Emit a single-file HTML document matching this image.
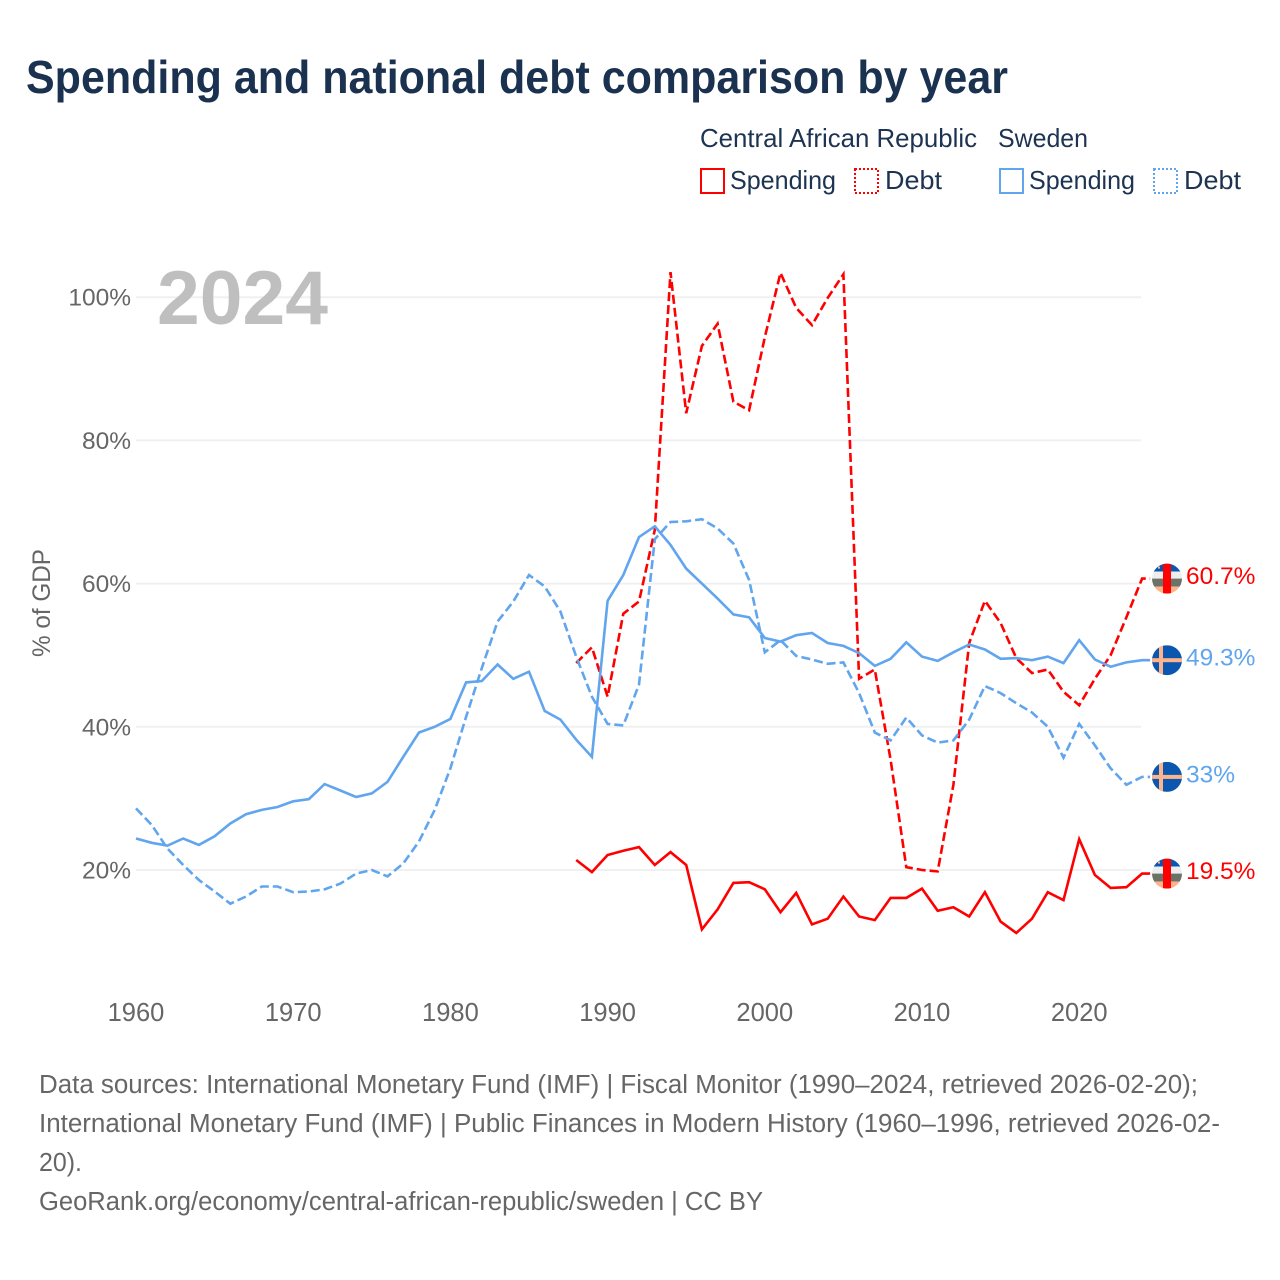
<!DOCTYPE html>
<html lang="en">
<head>
<meta charset="utf-8">
<title>Spending and national debt comparison by year</title>
<style>
html,body{margin:0;padding:0;background:#fff;}
svg{display:block;font-family:"Liberation Sans",sans-serif;}
</style>
</head>
<body>
<svg id="chart" xmlns="http://www.w3.org/2000/svg" width="1280" height="1280" viewBox="0 0 1280 1280">
  <defs>
    <clipPath id="flag-clip"><circle cx="0" cy="0" r="15"/></clipPath>
  </defs>
  <rect x="0" y="0" width="1280" height="1280" fill="#fff"/>
  <text x="26" y="93" font-size="46" font-weight="700" fill="#1a3150" textLength="982" lengthAdjust="spacingAndGlyphs">Spending and national debt comparison by year</text>

  <g font-size="26" fill="#1d3352">
    <text x="700" y="147" textLength="277" lengthAdjust="spacingAndGlyphs">Central African Republic</text>
    <text x="998" y="147" textLength="90" lengthAdjust="spacingAndGlyphs">Sweden</text>
    <rect x="701" y="169" width="23" height="24" fill="none" stroke="#ff0000" stroke-width="2"/>
    <text x="730" y="189" textLength="106" lengthAdjust="spacingAndGlyphs">Spending</text>
    <rect x="855" y="169" width="23" height="24" fill="none" stroke="#ff0000" stroke-width="2" stroke-dasharray="2 2"/>
    <text x="885" y="189" textLength="57" lengthAdjust="spacingAndGlyphs">Debt</text>
    <rect x="1000" y="169" width="23" height="24" fill="none" stroke="#60a5ee" stroke-width="2"/>
    <text x="1029" y="189" textLength="106" lengthAdjust="spacingAndGlyphs">Spending</text>
    <rect x="1154" y="169" width="23" height="24" fill="none" stroke="#60a5ee" stroke-width="2" stroke-dasharray="2 2"/>
    <text x="1184" y="189" textLength="57" lengthAdjust="spacingAndGlyphs">Debt</text>
  </g>

  <text transform="translate(50,603) rotate(-90)" text-anchor="middle" font-size="25" fill="#666666" textLength="108" lengthAdjust="spacingAndGlyphs">% of GDP</text>

  <g id="grid"></g>
  <text x="157" y="324" font-size="76" font-weight="700" fill="#bfbfbf" textLength="171" lengthAdjust="spacingAndGlyphs">2024</text>
  <g id="yticks"></g>
  <g id="xticks"></g>
  <g id="lines"></g>
  <g id="ends"></g>

  <g font-size="25.5" fill="#666666">
    <text x="39" y="1093" textLength="1159" lengthAdjust="spacingAndGlyphs">Data sources: International Monetary Fund (IMF) | Fiscal Monitor (1990–2024, retrieved 2026-02-20);</text>
    <text x="39" y="1132" textLength="1181" lengthAdjust="spacingAndGlyphs">International Monetary Fund (IMF) | Public Finances in Modern History (1960–1996, retrieved 2026-02-</text>
    <text x="39" y="1171" textLength="43" lengthAdjust="spacingAndGlyphs">20).</text>
    <text x="39" y="1210" textLength="724" lengthAdjust="spacingAndGlyphs">GeoRank.org/economy/central-african-republic/sweden | CC BY</text>
  </g>
</svg>
<script>
const yTickValues = [20, 40, 60, 80, 100];
const xTickYears = [1960, 1970, 1980, 1990, 2000, 2010, 2020];

const swedenStartYear = 1960;
const swedenSpending = [24.4,23.8,23.4,24.4,23.5,24.7,26.5,27.8,28.4,28.8,29.6,29.9,32.0,31.1,30.2,30.7,32.3,35.8,39.2,40.0,41.1,46.2,46.4,48.7,46.7,47.7,42.2,41.0,38.2,35.8,57.6,61.2,66.5,68.0,65.4,62.1,60.0,57.9,55.7,55.3,52.4,51.9,52.8,53.1,51.7,51.3,50.3,48.5,49.5,51.8,49.8,49.2,50.4,51.5,50.8,49.5,49.6,49.3,49.8,48.9,52.1,49.4,48.4,49.0,49.3];
const swedenDebt = [28.6,26.3,23.0,20.7,18.6,17.0,15.3,16.3,17.7,17.7,16.9,17.0,17.3,18.1,19.5,20.0,19.1,20.9,24.0,28.4,34.2,41.4,48.2,54.7,57.5,61.2,59.6,56.1,49.8,44.2,40.4,40.2,45.9,66.2,68.6,68.7,69.0,67.7,65.6,60.5,50.4,52.1,49.9,49.4,48.8,49.0,44.7,39.2,38.1,41.3,38.8,37.8,38.1,41.0,45.7,44.7,43.3,42.0,40.0,35.7,40.4,37.4,34.2,31.9,33];

const carStartYear = 1988;
const carSpending = [21.4,19.7,22.1,22.7,23.2,20.7,22.5,20.7,11.7,14.5,18.2,18.3,17.3,14.1,16.8,12.4,13.2,16.3,13.5,13.0,16.1,16.1,17.4,14.3,14.8,13.5,16.9,12.8,11.2,13.2,16.9,15.8,24.3,19.3,17.5,17.6,19.5];
const carDebt = [48.9,51.1,44.2,55.8,57.5,67.5,103.5,83.8,93.2,96.3,85.4,84.2,94.4,103.4,98.5,96.1,99.9,103.2,46.7,48.0,35.4,20.4,20.0,19.8,31.9,51.7,57.6,54.5,49.6,47.5,48.0,44.9,43.0,46.7,50.0,55.3,60.7];

const NS = 'http://www.w3.org/2000/svg';
const RED = '#ff0000';
const BLUE = '#60a5ee';

function xScale(year) { return 136 + (year - 1960) * 15.72; }
function yScale(value) { return 870 - (value - 20) * 7.16; }

function make(tag, attrs, parent) {
  const el = document.createElementNS(NS, tag);
  for (const k in attrs) el.setAttribute(k, attrs[k]);
  parent.appendChild(el);
  return el;
}

const gridLayer = document.getElementById('grid');
const yTickLayer = document.getElementById('yticks');
const xTickLayer = document.getElementById('xticks');
const lineLayer = document.getElementById('lines');
const endLayer = document.getElementById('ends');

yTickValues.forEach(function (v) {
  const line = make('line', {x1: 136, x2: 1141, y1: yScale(v), y2: yScale(v), stroke: '#f0f0f0', 'stroke-width': 2}, gridLayer);
  
  
  const label = make('text', {x: 131, y: yScale(v) + 8.5, 'text-anchor': 'end', 'font-size': 24.5, fill: '#666666'}, yTickLayer);
  label.textContent = v + '%';
  
  
});

xTickYears.forEach(function (year) {
  const label = make('text', {x: xScale(year), y: 1021, 'text-anchor': 'middle', 'font-size': 25.5, fill: '#666666'}, xTickLayer);
  label.textContent = String(year);
  
  
});

function drawSeries(values, startYear, color, dashed) {
  let d = '';
  values.forEach(function (v, i) {
    d += (i ? 'L' : 'M') + xScale(startYear + i).toFixed(1) + ' ' + yScale(v).toFixed(1);
  });
  const last = values[values.length - 1];
  d += 'L' + (xScale(startYear + values.length - 1) + 8).toFixed(1) + ' ' + yScale(last).toFixed(1);
  const attrs = {d: d, fill: 'none', stroke: color, 'stroke-width': 2.6, 'stroke-linejoin': 'miter'};
  if (dashed) attrs['stroke-dasharray'] = '9 4';
  return make('path', attrs, lineLayer);
}

const carDebtLine = drawSeries(carDebt, carStartYear, RED, true);


const swedenDebtLine = drawSeries(swedenDebt, swedenStartYear, BLUE, true);


const carSpendingLine = drawSeries(carSpending, carStartYear, RED, false);


const swedenSpendingLine = drawSeries(swedenSpending, swedenStartYear, BLUE, false);



function drawCarFlag(y) {
  const g = make('g', {transform: 'translate(1167,' + yScale(y).toFixed(1) + ')', 'clip-path': 'url(#flag-clip)'}, endLayer);
  make('rect', {x: -15, y: -15, width: 30, height: 8, fill: '#0b57b0'}, g);
  make('rect', {x: -15, y: -7, width: 30, height: 7, fill: '#eeeeee'}, g);
  make('rect', {x: -15, y: 0, width: 30, height: 8, fill: '#6b7267'}, g);
  make('rect', {x: -15, y: 8, width: 30, height: 7, fill: '#ffb38a'}, g);
  make('rect', {x: -4, y: -15, width: 8, height: 30, fill: RED}, g);
  make('rect', {x: -9, y: -12, width: 2, height: 2, fill: '#ffb38a'}, g);
  return g;
}

function drawSwedenFlag(y) {
  const g = make('g', {transform: 'translate(1167,' + yScale(y).toFixed(1) + ')', 'clip-path': 'url(#flag-clip)'}, endLayer);
  make('rect', {x: -15, y: -15, width: 30, height: 30, fill: '#0b57b0'}, g);
  make('rect', {x: -8, y: -15, width: 4, height: 30, fill: '#ffb38a'}, g);
  make('rect', {x: -15, y: -2, width: 30, height: 4, fill: '#ffb38a'}, g);
  return g;
}

function drawEndLabel(value, color) {
  const label = make('text', {x: 1186, y: yScale(value) + 5.5, 'font-size': 24.5, fill: color}, endLayer);
  label.textContent = value + '%';
  return label;
}

const carDebtLast = carDebt[carDebt.length - 1];
const carSpendingLast = carSpending[carSpending.length - 1];
const swedenDebtLast = swedenDebt[swedenDebt.length - 1];
const swedenSpendingLast = swedenSpending[swedenSpending.length - 1];

const flagCarDebt = drawCarFlag(carDebtLast);


const flagCarSpending = drawCarFlag(carSpendingLast);


const flagSwedenDebt = drawSwedenFlag(swedenDebtLast);


const flagSwedenSpending = drawSwedenFlag(swedenSpendingLast);



const labelCarDebt = drawEndLabel(carDebtLast, RED);


const labelCarSpending = drawEndLabel(carSpendingLast, RED);


const labelSwedenDebt = drawEndLabel(swedenDebtLast, BLUE);


const labelSwedenSpending = drawEndLabel(swedenSpendingLast, BLUE);


</script>
</body>
</html>
